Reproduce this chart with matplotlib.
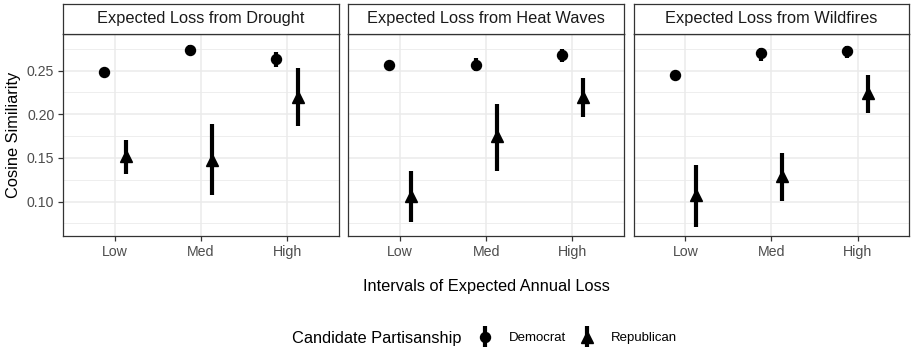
import matplotlib.pyplot as plt
from matplotlib.container import ErrorbarContainer
from matplotlib.legend_handler import HandlerErrorbar
import numpy as np

plt.rcParams['font.family'] = ['Liberation Sans', 'DejaVu Sans']

# categories and panels
categories = ["Low", "Med", "High"]
hazards = ["Drought", "Heat Waves", "Wildfires"]

# Democrat estimates and intervals (one row per hazard)
dem_est = [[0.248, 0.274, 0.263], [0.257, 0.257, 0.268], [0.2455, 0.270, 0.2725]]
dem_lo = [[0.243, 0.268, 0.2546], [0.253, 0.249, 0.2596], [0.241, 0.261, 0.264]]
dem_hi = [[0.253, 0.279, 0.2717], [0.260, 0.264, 0.275], [0.250, 0.276, 0.2785]]

# Republican estimates and intervals
rep_est = [[0.1525, 0.148, 0.220], [0.1065, 0.175, 0.220], [0.108, 0.129, 0.224]]
rep_lo = [[0.132, 0.108, 0.187], [0.077, 0.135, 0.197], [0.071, 0.101, 0.201]]
rep_hi = [[0.170, 0.189, 0.253], [0.135, 0.212, 0.241], [0.142, 0.156, 0.245]]

W, H = 912, 348
fig = plt.figure(figsize=(W / 100, H / 100), dpi=100)

border = '#333333'
grid = '#EBEBEB'
dodge = 0.125
x = np.arange(1, len(categories) + 1)


def fx(px):
    return px / W


def fy(py):
    return 1 - py / H


panel_w = 275.6
for i, hz in enumerate(hazards):
    left = 63.3 + i * 285.2
    ax = fig.add_axes([fx(left), fy(235.5), fx(panel_w), (235.5 - 33.5) / H])
    ax.set_xlim(0.4, 3.6)
    ax.set_ylim(0.0612, 0.2925)
    ax.set_yticks([0.10, 0.15, 0.20, 0.25])
    ax.set_yticks([0.075, 0.125, 0.175, 0.225, 0.275], minor=True)
    ax.set_xticks(x)
    ax.set_xticklabels(categories)
    ax.grid(True, which='major', color=grid, lw=1.1)
    ax.grid(True, which='minor', axis='y', color=grid, lw=0.6)
    ax.set_axisbelow(True)
    for s in ax.spines.values():
        s.set_color(border)
        s.set_linewidth(0.9)
    ax.tick_params(which='major', color=border, length=3.5, width=0.9,
                   labelcolor='#4D4D4D', labelsize=10.2, pad=3)
    ax.tick_params(which='minor', length=0)
    if i == 0:
        ax.set_yticklabels(['0.10', '0.15', '0.20', '0.25'])
    else:
        ax.tick_params(axis='y', which='both', left=False, labelleft=False)

    d_est = np.array(dem_est[i])
    r_est = np.array(rep_est[i])
    ax.errorbar(x - dodge, d_est,
                yerr=[d_est - np.array(dem_lo[i]), np.array(dem_hi[i]) - d_est],
                fmt='o', color='black', ms=7.2, elinewidth=3, capsize=0,
                label='Democrat')
    ax.errorbar(x + dodge, r_est,
                yerr=[r_est - np.array(rep_lo[i]), np.array(rep_hi[i]) - r_est],
                fmt='^', color='black', ms=8.2, elinewidth=3, capsize=0,
                label='Republican')
    if i == 0:
        handles, labels = ax.get_legend_handles_labels()

    # strip on top
    sax = fig.add_axes([fx(left), fy(33.5), fx(panel_w), (33.5 - 4) / H])
    sax.set_xticks([])
    sax.set_yticks([])
    sax.set_facecolor('white')
    for s in sax.spines.values():
        s.set_color(border)
        s.set_linewidth(0.9)
    sax.text(0.5, 0.5, 'Expected Loss from ' + hz, ha='center', va='center',
             fontsize=11.8, color='#1A1A1A', transform=sax.transAxes)

fig.text(fx(14), fy(134.5), 'Cosine Similiarity', rotation=90,
         ha='center', va='center', fontsize=11.8)
fig.text(fx(486), fy(286), 'Intervals of Expected Annual Loss',
         ha='center', va='center', fontsize=11.8)

fig.text(fx(292), fy(338), 'Candidate Partisanship', ha='left', va='center',
         fontsize=11.8)
leg = fig.legend(handles, labels, loc='center left',
                 bbox_to_anchor=(fx(477), fy(338)),
                 ncol=2, frameon=False, fontsize=9.5, handlelength=1.2,
                 handletextpad=1.2, columnspacing=1.0, borderpad=0,
                 borderaxespad=0,
                 handler_map={ErrorbarContainer: HandlerErrorbar(yerr_size=0.8)})

fig.savefig('out.png', dpi=100)
